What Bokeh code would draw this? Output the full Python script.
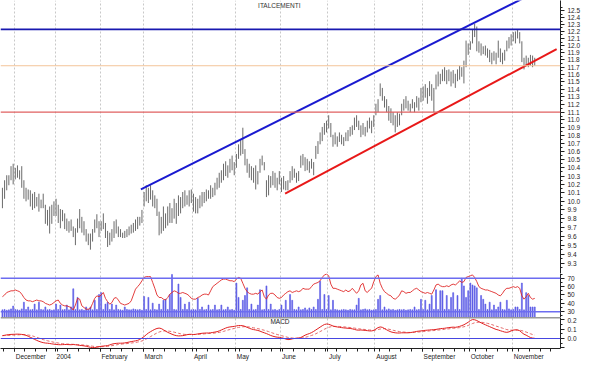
from bokeh.plotting import figure
from bokeh.models import (Range1d, FixedTicker, Span, Label, ColumnDataSource,
                          PrintfTickFormatter)
from bokeh.layouts import column
from bokeh.embed import file_html
from bokeh.resources import INLINE

title = "ITALCEMENTI"
month_names = ["December", "2004", "February", "March", "April", "May", "June",
               "July", "August", "September", "October", "November"]
month_start = [6, 25, 46, 66, 89, 109, 130, 152, 174, 196, 218, 238]

high = [10.16,10.25,10.31,10.31,10.42,10.45,10.40,10.43,10.37,10.42,
        10.25,10.16,10.14,10.13,10.09,10.11,10.05,10.09,10.02,10.09,
        9.96,9.90,9.94,9.96,10.00,10.03,9.96,9.91,9.90,9.86,
        9.80,9.77,9.79,9.71,9.69,9.80,9.91,9.82,9.77,9.68,
        9.63,9.63,9.68,9.79,9.85,9.77,9.77,9.86,9.75,9.66,
        9.64,9.68,9.77,9.79,9.71,9.68,9.64,9.66,9.68,9.71,
        9.73,9.75,9.79,9.82,9.82,9.90,10.11,10.19,10.16,10.19,
        10.13,10.07,10.03,9.88,9.82,9.94,9.86,9.94,9.98,9.92,
        10.03,9.98,10.07,10.05,10.11,10.13,10.07,10.13,10.14,10.09,
        10.05,10.03,10.07,10.11,10.11,10.14,10.13,10.19,10.16,10.22,
        10.28,10.34,10.37,10.45,10.48,10.43,10.51,10.55,10.47,10.57,
        10.69,10.75,10.90,10.63,10.51,10.45,10.42,10.40,10.43,10.36,
        10.51,10.55,10.47,10.25,10.31,10.30,10.36,10.34,10.28,10.36,
        10.28,10.30,10.24,10.25,10.36,10.42,10.39,10.34,10.36,10.55,
        10.57,10.53,10.51,10.48,10.51,10.47,10.67,10.73,10.84,10.91,
        10.96,10.99,11.06,10.96,10.81,10.84,10.79,10.84,10.81,10.78,
        10.84,10.87,10.91,10.93,11.03,11.06,10.99,10.93,10.96,10.91,
        10.99,11.03,10.99,11.06,11.21,11.27,11.48,11.42,11.31,11.27,
        11.18,11.15,11.10,11.06,11.10,11.08,11.21,11.27,11.31,11.25,
        11.21,11.27,11.23,11.31,11.29,11.42,11.44,11.47,11.42,11.51,
        11.47,11.42,11.60,11.64,11.61,11.67,11.70,11.66,11.67,11.64,
        11.66,11.61,11.67,11.72,11.70,11.79,12.07,12.03,12.06,12.23,
        12.31,12.27,12.06,12.03,11.99,12.00,11.96,11.94,11.90,11.92,
        11.90,12.07,11.96,11.90,11.94,12.07,12.12,12.16,12.19,12.20,
        12.23,12.19,12.06,11.83,11.86,11.83,11.87,11.86,11.83]

low = [9.92,10.03,10.13,10.19,10.25,10.20,10.26,10.28,10.26,10.16,
       10.03,10.00,10.02,9.94,9.90,9.92,9.94,9.88,9.92,9.92,
       9.74,9.72,9.63,9.74,9.83,9.83,9.75,9.69,9.77,9.68,
       9.66,9.64,9.66,9.59,9.50,9.64,9.69,9.64,9.61,9.54,
       9.50,9.45,9.54,9.64,9.69,9.59,9.66,9.68,9.58,9.48,
       9.50,9.54,9.58,9.63,9.59,9.59,9.58,9.58,9.59,9.61,
       9.63,9.64,9.66,9.68,9.72,9.75,9.94,10.00,9.98,10.02,
       9.94,9.92,9.83,9.61,9.63,9.66,9.69,9.72,9.75,9.75,
       9.80,9.74,9.83,9.86,9.92,9.94,9.96,9.94,9.98,9.88,
       9.86,9.86,9.92,9.94,9.98,10.00,10.03,10.03,10.05,10.07,
       10.14,10.16,10.22,10.25,10.30,10.28,10.34,10.37,10.31,10.40,
       10.51,10.55,10.57,10.43,10.34,10.28,10.25,10.22,10.14,10.20,
       10.34,10.43,10.37,10.05,10.07,10.16,10.19,10.16,10.13,10.20,
       10.11,10.14,10.13,10.13,10.22,10.25,10.28,10.22,10.24,10.40,
       10.43,10.36,10.37,10.34,10.39,10.31,10.51,10.57,10.69,10.73,
       10.81,10.84,10.89,10.78,10.66,10.69,10.66,10.72,10.69,10.67,
       10.73,10.73,10.79,10.81,10.87,10.91,10.87,10.78,10.81,10.79,
       10.84,10.89,10.83,10.91,11.06,11.10,11.31,11.25,11.16,11.10,
       10.99,10.96,10.93,10.84,10.91,10.93,11.06,11.12,11.15,11.12,
       11.10,11.15,11.10,11.16,11.12,11.23,11.25,11.29,11.21,11.31,
       11.25,11.10,11.40,11.44,11.47,11.51,11.51,11.47,11.51,11.44,
       11.48,11.42,11.51,11.53,11.57,11.48,11.70,11.87,11.94,12.03,
       12.12,11.92,11.90,11.86,11.88,11.86,11.83,11.77,11.74,11.79,
       11.74,11.83,11.77,11.74,11.79,11.92,11.96,12.00,12.06,12.03,
       12.10,12.03,11.77,11.67,11.72,11.70,11.72,11.70,11.72]

rsi = [48,50,53,54,55,55,56,55,54,51,
       47,44,43,43,42,43,44,43,43,42,
       40,39,38,39,41,43,44,40,38,37,
       37,36,35,32,38,46,45,37,35,33,
       33,34,40,46,49,48,50,53,46,42,
       39,41,46,47,44,40,39,38,39,40,
       43,50,57,60,63,67,71,72,72,72,
       65,58,50,47,47,45,44,47,51,53,
       55,54,52,52,53,52,51,49,46,45,
       45,47,48,50,51,51,50,55,60,62,
       64,66,68,69,69,68,67,67,66,69,
       71,70,64,58,54,52,51,51,52,51,
       54,56,48,45,50,52,52,50,47,46,
       47,50,52,54,55,53,54,55,54,55,
       58,57,57,57,60,63,64,65,67,71,
       74,75,73,63,58,58,57,56,55,54,
       56,54,55,58,55,52,55,62,64,55,
       53,56,58,66,72,74,64,58,54,52,
       50,49,46,45,47,50,55,54,52,53,
       53,55,57,58,56,54,53,52,53,52,
       51,56,62,63,61,60,60,61,60,62,
       63,62,64,67,65,66,71,72,73,74,
       71,66,60,58,57,56,56,55,54,53,
       52,50,49,52,56,58,58,59,60,59,
       60,58,49,45,48,52,47,45,46]

volume = [400,420,380,400,450,600,420,400,380,450,
          800,420,550,400,420,700,400,800,420,400,
          550,400,420,380,400,700,420,650,400,420,
          650,400,550,1500,420,1050,400,420,380,550,
          420,550,400,900,420,1200,1300,420,700,800,
          420,700,400,650,420,400,380,550,420,400,
          400,450,420,400,420,380,1100,420,1050,400,
          750,420,400,700,420,900,950,420,1200,2250,
          420,400,1750,1050,420,700,420,800,400,420,
          400,1000,420,550,400,420,650,400,420,650,
          400,420,650,400,420,550,400,420,380,1800,
          1050,420,900,1150,1550,420,700,400,420,650,
          1450,400,420,1650,420,700,400,420,380,420,
          650,420,900,400,1200,900,420,400,550,400,
          420,500,400,500,420,550,420,950,1900,420,
          1200,420,1150,400,900,420,400,380,400,420,
          400,380,420,400,400,650,1000,400,420,450,
          400,420,380,400,420,950,1150,400,550,400,
          450,400,420,380,400,420,400,420,380,400,
          420,400,550,400,420,950,420,900,400,700,
          1150,420,1450,420,1400,1400,420,1150,420,1050,
          1300,420,1150,420,2050,1650,1050,1400,1800,1700,
          1650,1550,420,1150,950,700,420,800,400,650,
          420,550,800,420,400,900,450,400,420,550,
          550,420,1800,400,1300,1150,550,550,550]

macd = [0.030,0.034,0.038,0.041,0.043,0.044,0.045,0.046,0.045,0.043,
        0.040,0.033,0.024,0.012,0.002,-0.010,-0.020,-0.030,-0.038,-0.044,
        -0.048,-0.050,-0.053,-0.057,-0.060,-0.063,-0.065,-0.066,-0.065,-0.064,
        -0.064,-0.065,-0.066,-0.064,-0.066,-0.070,-0.073,-0.075,-0.078,-0.082,
        -0.088,-0.093,-0.096,-0.096,-0.092,-0.087,-0.083,-0.080,-0.078,-0.075,
        -0.068,-0.060,-0.055,-0.052,-0.050,-0.050,-0.049,-0.047,-0.043,-0.038,
        -0.033,-0.029,-0.025,-0.020,-0.010,0.004,0.020,0.040,0.058,0.072,
        0.085,0.097,0.106,0.110,0.105,0.092,0.078,0.065,0.055,0.045,
        0.036,0.030,0.027,0.028,0.030,0.034,0.040,0.044,0.044,0.042,
        0.044,0.048,0.052,0.055,0.057,0.058,0.058,0.060,0.064,0.068,
        0.072,0.080,0.090,0.100,0.110,0.118,0.122,0.125,0.128,0.133,
        0.137,0.137,0.135,0.128,0.118,0.108,0.100,0.094,0.090,0.085,
        0.078,0.068,0.060,0.052,0.042,0.032,0.024,0.018,0.014,0.012,
        0.008,0.002,-0.006,-0.012,-0.010,-0.004,0.000,0.002,0.005,0.010,
        0.022,0.035,0.044,0.052,0.062,0.075,0.090,0.105,0.120,0.135,
        0.148,0.153,0.150,0.142,0.132,0.126,0.122,0.118,0.115,0.112,
        0.110,0.108,0.106,0.102,0.096,0.090,0.088,0.090,0.088,0.085,
        0.083,0.080,0.080,0.085,0.100,0.115,0.122,0.118,0.105,0.092,
        0.080,0.070,0.064,0.060,0.058,0.058,0.060,0.060,0.060,0.060,
        0.062,0.066,0.070,0.075,0.078,0.080,0.083,0.086,0.088,0.090,
        0.092,0.093,0.096,0.100,0.104,0.106,0.108,0.112,0.115,0.118,
        0.120,0.118,0.122,0.128,0.136,0.145,0.158,0.172,0.190,0.200,
        0.198,0.190,0.178,0.166,0.155,0.145,0.135,0.125,0.115,0.105,
        0.096,0.090,0.082,0.075,0.068,0.065,0.070,0.080,0.088,0.092,
        0.090,0.082,0.062,0.045,0.035,0.022,0.010,0.004,0.002]

signal = [0.030,0.031,0.032,0.033,0.035,0.036,0.037,0.038,0.039,0.040,
          0.040,0.039,0.037,0.033,0.027,0.020,0.012,0.004,-0.004,-0.012,
          -0.018,-0.024,-0.030,-0.035,-0.040,-0.044,-0.048,-0.052,-0.055,-0.057,
          -0.059,-0.060,-0.061,-0.062,-0.063,-0.064,-0.066,-0.068,-0.070,-0.072,
          -0.075,-0.078,-0.082,-0.085,-0.087,-0.087,-0.087,-0.086,-0.085,-0.083,
          -0.080,-0.076,-0.072,-0.068,-0.064,-0.061,-0.058,-0.056,-0.054,-0.051,
          -0.048,-0.045,-0.042,-0.038,-0.033,-0.026,-0.017,-0.006,0.007,0.020,
          0.033,0.046,0.058,0.068,0.075,0.079,0.080,0.079,0.076,0.072,
          0.067,0.061,0.055,0.050,0.046,0.043,0.042,0.042,0.042,0.042,
          0.042,0.043,0.045,0.047,0.049,0.051,0.053,0.054,0.056,0.058,
          0.061,0.064,0.069,0.075,0.082,0.089,0.095,0.101,0.106,0.112,
          0.117,0.121,0.124,0.125,0.124,0.121,0.117,0.113,0.109,0.104,
          0.099,0.093,0.087,0.080,0.073,0.065,0.057,0.049,0.042,0.036,
          0.030,0.024,0.018,0.012,0.008,0.005,0.004,0.003,0.003,0.004,
          0.007,0.012,0.018,0.025,0.032,0.040,0.050,0.061,0.073,0.085,
          0.098,0.109,0.118,0.124,0.127,0.128,0.128,0.127,0.125,0.123,
          0.121,0.118,0.116,0.113,0.110,0.106,0.102,0.100,0.097,0.095,
          0.092,0.090,0.088,0.087,0.090,0.095,0.100,0.103,0.104,0.102,
          0.098,0.093,0.087,0.082,0.077,0.073,0.070,0.068,0.066,0.064,
          0.064,0.064,0.065,0.067,0.069,0.071,0.073,0.076,0.078,0.080,
          0.082,0.084,0.087,0.089,0.092,0.094,0.097,0.100,0.102,0.105,
          0.108,0.110,0.112,0.115,0.119,0.124,0.130,0.138,0.148,0.158,
          0.166,0.171,0.172,0.172,0.169,0.165,0.160,0.154,0.147,0.139,
          0.131,0.124,0.116,0.109,0.101,0.094,0.090,0.088,0.088,0.089,
          0.089,0.088,0.083,0.076,0.068,0.059,0.050,0.042,0.036]

# reference levels and trend lines (price units)
resistance_level = 12.23
mid_level = 11.72
support_level = 11.10
upper_trend_x = [64.5, 245.0]
upper_trend_y = [10.14, 12.72]
lower_trend_x = [131.7, 258.2]
lower_trend_y = [10.09, 11.95]
rsi_levels = [70, 30]

price_ticks = [round(9.3 + 0.1 * k, 1) for k in range(33)]
price_minor = [round(9.25 + 0.1 * k, 2) for k in range(34)]

n = len(high)
days = list(range(n))
src = ColumnDataSource(dict(x=days, high=high, low=low, rsi=rsi, vol=volume,
                            macd=macd, signal=signal))

W = 584
RB = 24
FW = W - RB
FONT = "Liberation Sans"
FS = 6.5
x_range = Range1d(-0.9, 260.0)
grid_x = [m - 0.5 for m in month_start]
week_x = [6 + 5 * k - 0.5 for k in range(-1, 51)]

# month names sit just right of their month line: centre each label half its width to the right
CHAR_EM = {"D": .722, "e": .556, "c": .5, "m": .833, "b": .556, "r": .333, "2": .556, "0": .556,
           "4": .556, "F": .611, "u": .556, "a": .556, "y": .5, "M": .833, "h": .556, "A": .667,
           "p": .556, "i": .222, "l": .222, "J": .5, "n": .556, "g": .556, "s": .5, "t": .278,
           "S": .667, "O": .778, "o": .556, "N": .722, "v": .5}
units_per_px = (x_range.end - x_range.start) / FW
label_x = [round(g + (sum(CHAR_EM.get(c, .556) for c in name) * FS / 2 + 1.5) * units_per_px, 3)
           for g, name in zip(grid_x, month_names)]


def style(p):
    p.outline_line_color = None
    p.background_fill_color = "white"
    p.border_fill_color = "white"
    p.ygrid.grid_line_color = None
    p.xgrid.ticker = FixedTicker(ticks=grid_x)
    p.xgrid.grid_line_color = "#c8c8c8"
    p.xgrid.grid_line_dash = "2 2"
    p.xgrid.grid_line_width = 1
    ax = p.yaxis[0]
    ax.axis_line_color = "#222222"
    ax.major_tick_line_color = "#222222"
    ax.minor_tick_line_color = "#222222"
    ax.major_tick_in = 0
    ax.major_tick_out = 4
    ax.minor_tick_in = 0
    ax.minor_tick_out = 2
    ax.major_label_text_font = FONT
    ax.major_label_text_font_size = f"{FS}px"
    ax.major_label_text_color = "#222222"
    ax.major_label_standoff = 3


common = dict(width=W, x_range=x_range, y_axis_location="right",
              output_backend="svg", toolbar_location=None,
              min_border_left=0, min_border_right=RB, min_border_top=0)

# ---- price panel
p1 = figure(height=273, y_range=Range1d(9.19, 12.65), y_axis_type="log",
            x_axis_location=None, min_border_bottom=0, **common)
style(p1)
p1.yaxis.ticker = FixedTicker(ticks=price_ticks, minor_ticks=price_minor)
p1.yaxis.formatter = PrintfTickFormatter(format="%.1f")

p1.add_layout(Span(location=resistance_level, dimension="width", line_color="#1818b0", line_width=1.6))
p1.add_layout(Span(location=mid_level, dimension="width", line_color="#f3c59a", line_width=1))
p1.add_layout(Span(location=support_level, dimension="width", line_color="#e06060", line_width=1.2))

p1.segment(x0="x", x1="x", y0="low", y1="high", source=src, line_color="#6a6a6a", line_width=1)
p1.line(upper_trend_x, upper_trend_y, line_color="#1a1ad0", line_width=2)
p1.line(lower_trend_x, lower_trend_y, line_color="#e81818", line_width=2)
p1.add_layout(Label(x=129, y=12.58, text=title, text_font=FONT, text_font_size=f"{FS}px",
                    text_color="#333333", text_align="center", text_baseline="middle"))

# ---- RSI + volume panel
p2 = figure(height=44, y_range=Range1d(23.1, 75.7), x_axis_location=None,
            min_border_bottom=0, **common)
style(p2)
p2.extra_y_ranges = {"vol": Range1d(0, 2300)}
p2.yaxis.ticker = FixedTicker(ticks=[30, 40, 50, 60, 70], minor_ticks=[25, 35, 45, 55, 65, 75])
p2.vbar(x="x", top="vol", bottom=0, width=0.45, source=src, y_range_name="vol",
        fill_color="#5b5be6", line_color="#5b5be6", line_width=0.6)
for lv in rsi_levels:
    p2.add_layout(Span(location=lv, dimension="width", line_color="#6c6cf0", line_width=1.6))
p2.line(x="x", y="rsi", source=src, line_color="#e02828", line_width=0.9)

# ---- MACD panel with the time axis
p3 = figure(height=45, y_range=Range1d(-0.106, 0.222), x_axis_location="below",
            min_border_bottom=11, **common)
style(p3)
p3.yaxis.ticker = FixedTicker(ticks=[-0.1, 0.0, 0.1, 0.2], minor_ticks=[-0.05, 0.05, 0.15])
p3.yaxis.formatter = PrintfTickFormatter(format="%.1f")
p3.yaxis.major_label_overrides = {-0.1: ""}
xa = p3.xaxis[0]
xa.ticker = FixedTicker(ticks=label_x, minor_ticks=grid_x + week_x)
xa.major_label_overrides = {lx: name for lx, name in zip(label_x, month_names)}
xa.axis_line_color = "#222222"
xa.major_tick_line_color = None
xa.minor_tick_line_color = "#222222"
xa.major_tick_in = 0
xa.major_tick_out = 0
xa.minor_tick_in = 0
xa.minor_tick_out = 3
xa.major_label_text_font = FONT
xa.major_label_text_font_size = f"{FS}px"
xa.major_label_text_color = "#222222"
xa.major_label_standoff = 1

p3.add_layout(Span(location=0.2215, dimension="width", line_color="#333333", line_width=1.2))
p3.add_layout(Span(location=0.0, dimension="width", line_color="#4646e0", line_width=1.2))
p3.line(x="x", y="signal", source=src, line_color="#e46a6a", line_width=1, line_dash="3 2")
p3.line(x="x", y="macd", source=src, line_color="#e02020", line_width=1)
p3.add_layout(Label(x=129.3, y=0.175, text="MACD", text_font=FONT, text_font_size=f"{FS}px",
                    text_color="#222222", text_align="center", text_baseline="middle"))

layout = column(p1, p2, p3, spacing=0)
open("out.html", "w").write(file_html(layout, INLINE))
